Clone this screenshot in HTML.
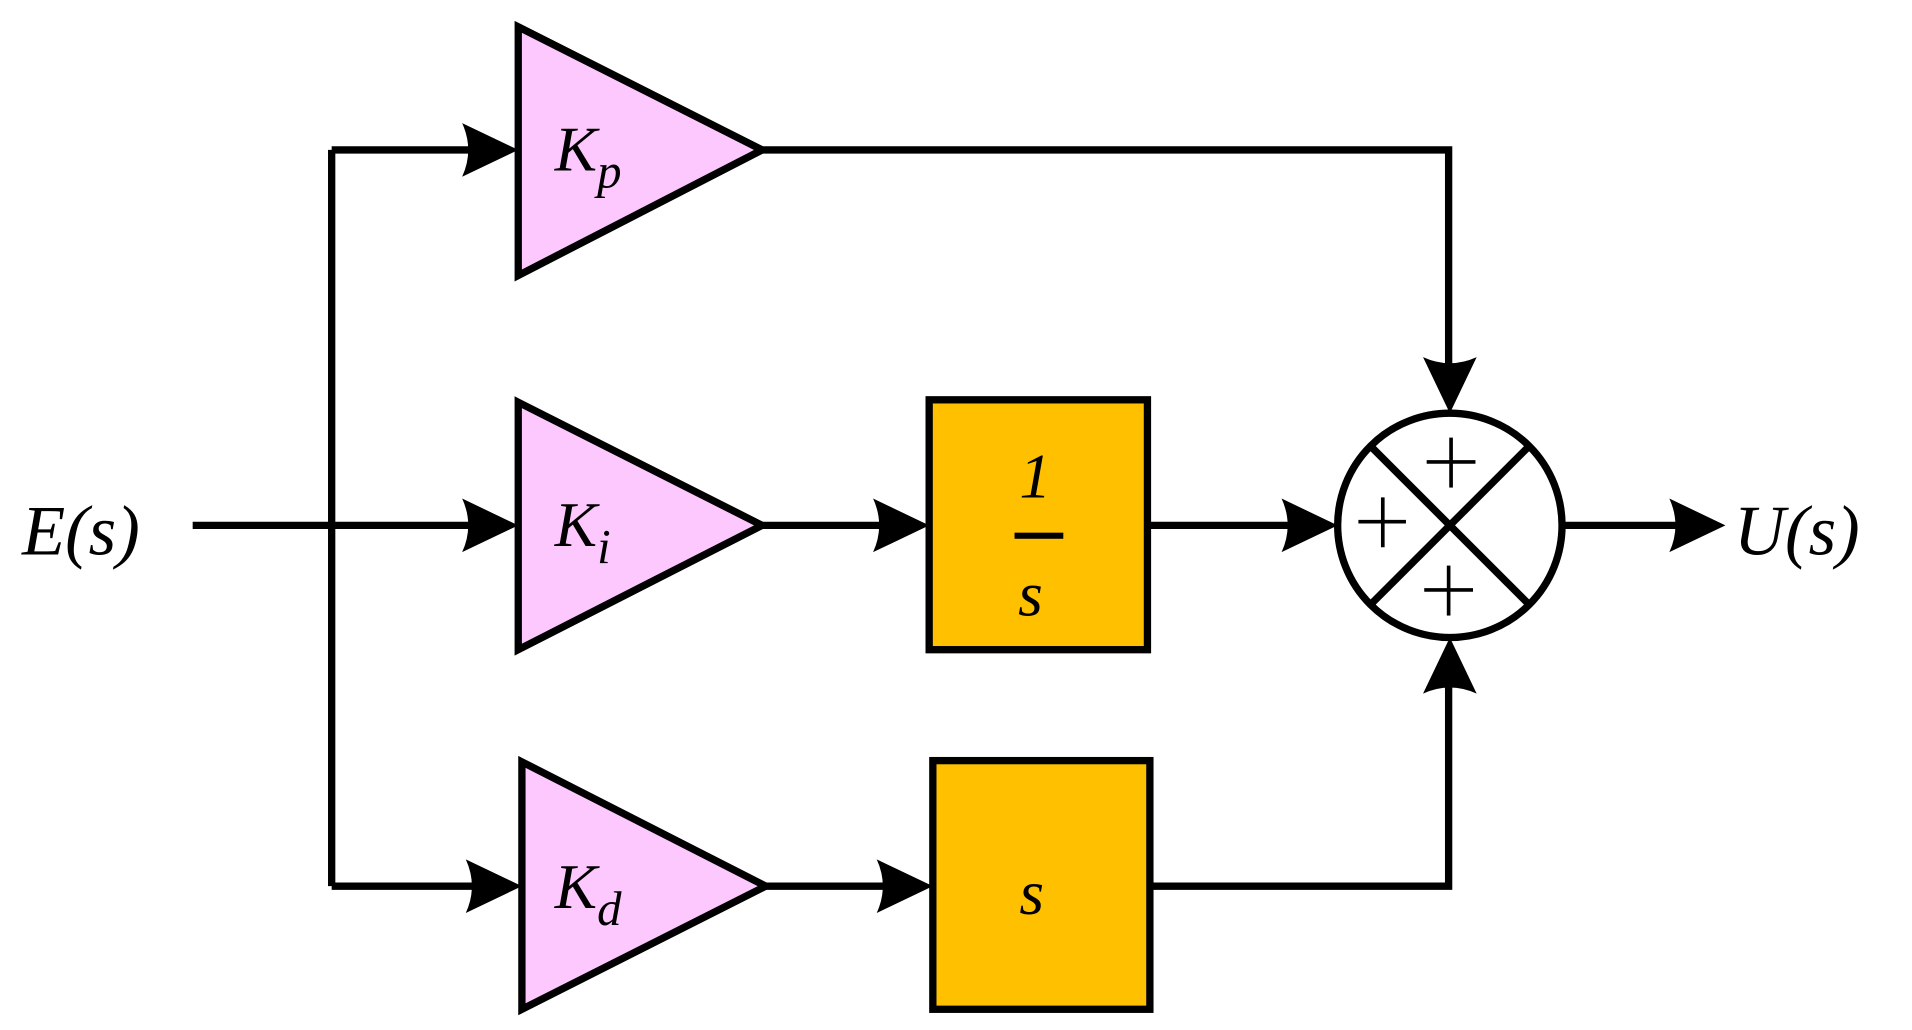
<!DOCTYPE html>
<html><head><meta charset="utf-8"><style>
html,body{margin:0;padding:0;background:#fff;}
svg{display:block;}
text{font-family:"Liberation Serif",serif;font-style:italic;fill:#000;}
</style></head><body>
<svg width="1912" height="1030" viewBox="0 0 1568 845" preserveAspectRatio="none" xmlns="http://www.w3.org/2000/svg">
<defs>
<path id="ah" d="M0,0 L-46,-22 Q-36,0 -46,22 Z" fill="#000"/>
</defs>
<g stroke="#000" stroke-width="6" fill="none" stroke-linejoin="miter">
<path d="M158,431 H400"/>
<path d="M272,123 V727"/>
<path d="M272,123 H400"/>
<path d="M272,727 H400"/>
<path d="M625,123 H1188 V310"/>
<path d="M625,431 H735"/>
<path d="M941,431 H1068"/>
<path d="M628,727 H738"/>
<path d="M943,727 H1188 V550"/>
<path d="M1280,431 H1390"/>
</g>
<polygon points="425,22 625,123 425,226" fill="#fdc8fd" stroke="#000" stroke-width="6"/>
<polygon points="425,330 625,431 425,533" fill="#fdc8fd" stroke="#000" stroke-width="6"/>
<polygon points="428,625 628,727 428,828" fill="#fdc8fd" stroke="#000" stroke-width="6"/>
<rect x="762" y="328" width="179" height="205" fill="#ffc000" stroke="#000" stroke-width="6"/>
<rect x="765" y="624" width="178" height="204" fill="#ffc000" stroke="#000" stroke-width="6"/>
<circle cx="1189" cy="431" r="92" fill="#fff" stroke="#000" stroke-width="6"/>
<g stroke="#000" stroke-width="6">
<line x1="1124" y1="366" x2="1254" y2="496"/>
<line x1="1254" y1="366" x2="1124" y2="496"/>
</g>
<g stroke="#000" stroke-width="3">
<line x1="1170" y1="379" x2="1210" y2="379"/><line x1="1190" y1="359" x2="1190" y2="400"/>
<line x1="1114" y1="428" x2="1153" y2="428"/><line x1="1134" y1="408" x2="1134" y2="449"/>
<line x1="1168" y1="484" x2="1208" y2="484"/><line x1="1188" y1="464" x2="1188" y2="505"/>
</g>
<use href="#ah" transform="translate(425,123)"/>
<use href="#ah" transform="translate(425,431)"/>
<use href="#ah" transform="translate(428,727)"/>
<use href="#ah" transform="translate(762,431)"/>
<use href="#ah" transform="translate(765,727)"/>
<use href="#ah" transform="translate(1097,431)"/>
<use href="#ah" transform="translate(1415,431)"/>
<use href="#ah" transform="translate(1189,339) rotate(90)"/>
<use href="#ah" transform="translate(1189,523) rotate(-90)"/>
<text x="18" y="455" font-size="58">E(s)</text>
<text x="1422" y="455" font-size="58">U(s)</text>
<text x="455" y="140" font-size="52">K<tspan font-size="40" dy="14">p</tspan></text>
<text x="455" y="448" font-size="52">K<tspan font-size="40" dy="14">i</tspan></text>
<text x="455" y="745" font-size="52">K<tspan font-size="40" dy="14">d</tspan></text>
<text x="836" y="408" font-size="52" font-style="normal">1</text>
<rect x="832" y="437" width="40" height="5" fill="#000"/>
<text x="835" y="505" font-size="52">s</text>
<text x="836" y="750" font-size="52">s</text>
</svg>
</body></html>
